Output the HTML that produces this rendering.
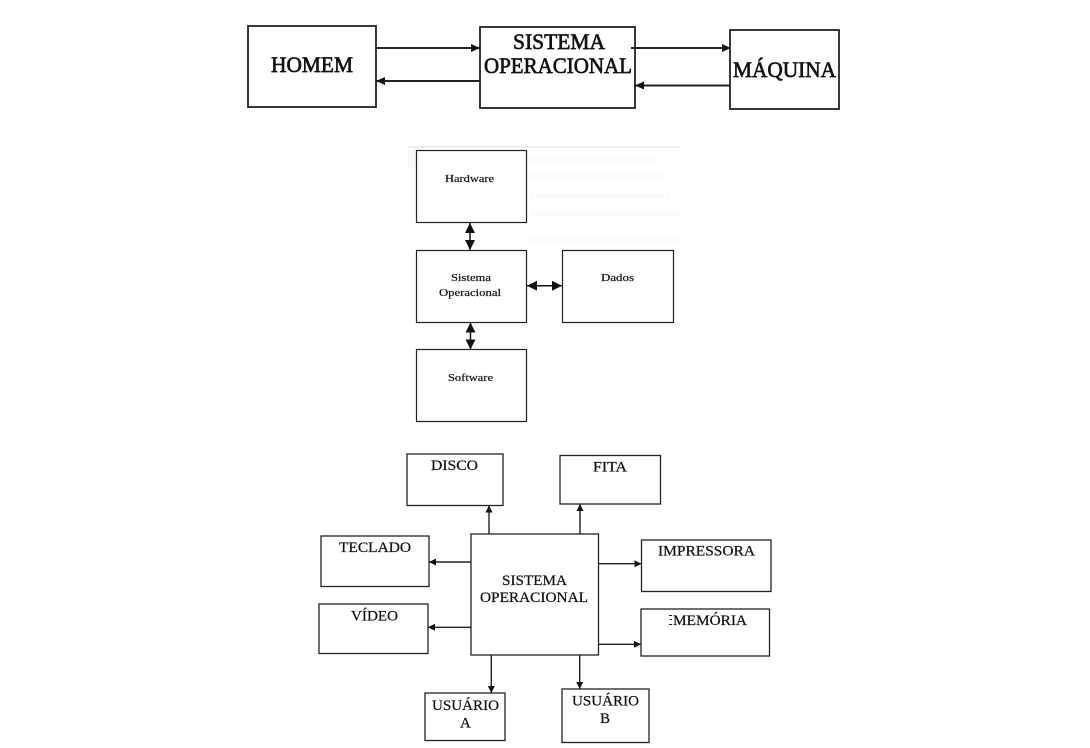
<!DOCTYPE html>
<html>
<head>
<meta charset="utf-8">
<style>
html,body{margin:0;padding:0;background:#fff;}
svg{display:block;filter:blur(0.35px);}
text{font-family:"Liberation Serif",serif;fill:#111;stroke:#111;}
</style>
</head>
<body>
<svg width="1090" height="748" viewBox="0 0 1090 748" xmlns="http://www.w3.org/2000/svg">
<defs>
<marker id="a" markerWidth="10" markerHeight="10" refX="9" refY="4" orient="auto-start-reverse" markerUnits="userSpaceOnUse"><path d="M0,0L9,4L0,8z" fill="#111"/></marker>
<marker id="b" markerWidth="11" markerHeight="11" refX="10" refY="5" orient="auto-start-reverse" markerUnits="userSpaceOnUse"><path d="M0,0L10,5L0,10z" fill="#111"/></marker>
<marker id="c" markerWidth="8" markerHeight="8" refX="7" refY="3.500" orient="auto-start-reverse" markerUnits="userSpaceOnUse"><path d="M0,0L7,3.500L0,7z" fill="#111"/></marker>
</defs>
<line x1="408" y1="147" x2="680" y2="147" stroke="#ddd" stroke-width="1"/>
<g fill="none" stroke="#fbfbfb" stroke-width="6">
<line x1="530" y1="160" x2="660" y2="160"/>
<line x1="530" y1="175" x2="665" y2="175"/>
<line x1="530" y1="196" x2="670" y2="196"/>
<line x1="530" y1="213" x2="680" y2="213"/>
<line x1="530" y1="240" x2="680" y2="240"/>
</g>
<rect x="408" y="150" width="8" height="18" fill="#f8f8f8"/>
<g fill="#fff" stroke="#222" stroke-width="1.800">
<rect x="248" y="26" width="128" height="81"/>
<rect x="480" y="27" width="155" height="81"/>
<rect x="730" y="30" width="109" height="79"/>
</g>
<g fill="none" stroke="#222" stroke-width="2">
<line x1="376" y1="48" x2="480" y2="48" marker-end="url(#a)"/>
<line x1="480" y1="81" x2="376" y2="81" marker-end="url(#a)"/>
<line x1="631" y1="48" x2="731" y2="48" marker-end="url(#a)"/>
<line x1="730" y1="85.500" x2="635" y2="85.500" marker-end="url(#a)"/>
</g>
<g font-size="22" stroke-width="0.650">
<text x="271" y="72" textLength="82" lengthAdjust="spacingAndGlyphs">HOMEM</text>
<text x="513" y="49" textLength="92" lengthAdjust="spacingAndGlyphs">SISTEMA</text>
<text x="484" y="73" textLength="148" lengthAdjust="spacingAndGlyphs">OPERACIONAL</text>
<text x="733" y="77" textLength="103" lengthAdjust="spacingAndGlyphs">MÁQUINA</text>
</g>
<g fill="#fff" stroke="#222" stroke-width="1.200">
<rect x="416.500" y="150.500" width="110" height="72"/>
<rect x="416.500" y="250.500" width="110" height="72"/>
<rect x="562.500" y="250.500" width="111" height="72"/>
<rect x="416.500" y="349.500" width="110" height="72"/>
</g>
<g fill="none" stroke="#111" stroke-width="1.500">
<line x1="470" y1="223" x2="470" y2="250" marker-start="url(#b)" marker-end="url(#b)"/>
<line x1="470.500" y1="322.500" x2="470.500" y2="349.500" marker-start="url(#b)" marker-end="url(#b)"/>
<line x1="527" y1="285.700" x2="562" y2="285.700" marker-start="url(#b)" marker-end="url(#b)"/>
</g>
<g font-size="11" stroke-width="0.200">
<text x="445" y="182" textLength="49" lengthAdjust="spacingAndGlyphs">Hardware</text>
<text x="451" y="281" textLength="40" lengthAdjust="spacingAndGlyphs">Sistema</text>
<text x="439" y="296" textLength="62" lengthAdjust="spacingAndGlyphs">Operacional</text>
<text x="601" y="281" textLength="33" lengthAdjust="spacingAndGlyphs">Dados</text>
<text x="448" y="381" textLength="45" lengthAdjust="spacingAndGlyphs">Software</text>
</g>
<g fill="#fff" stroke="#222" stroke-width="1.300">
<rect x="407" y="454" width="96" height="51.500"/>
<rect x="560" y="455.500" width="100.500" height="48.500"/>
<rect x="321" y="536" width="108" height="50.500"/>
<rect x="641.500" y="540" width="129.500" height="51.500"/>
<rect x="319" y="604" width="109" height="49.500"/>
<rect x="641" y="609" width="128.500" height="47"/>
<rect x="425" y="693" width="80" height="47.500"/>
<rect x="562" y="689" width="87" height="53.500"/>
<rect x="471" y="534" width="127.500" height="121"/>
</g>
<g fill="none" stroke="#222" stroke-width="1.400">
<line x1="489" y1="534" x2="489" y2="505.500" marker-end="url(#c)"/>
<line x1="580" y1="534" x2="580" y2="504" marker-end="url(#c)"/>
<line x1="471" y1="562" x2="429" y2="562" marker-end="url(#c)"/>
<line x1="471" y1="627.300" x2="428" y2="627.300" marker-end="url(#c)"/>
<line x1="598.500" y1="563.700" x2="641.500" y2="563.700" marker-end="url(#c)"/>
<line x1="598.500" y1="644.300" x2="641" y2="644.300" marker-end="url(#c)"/>
<line x1="491.300" y1="655" x2="491.300" y2="693" marker-end="url(#c)"/>
<line x1="579.700" y1="655" x2="579.700" y2="689" marker-end="url(#c)"/>
</g>
<g font-size="15" stroke-width="0.250">
<text x="431" y="470" textLength="47" lengthAdjust="spacingAndGlyphs">DISCO</text>
<text x="593" y="471.500" textLength="34" lengthAdjust="spacingAndGlyphs">FITA</text>
<text x="339" y="552" textLength="72" lengthAdjust="spacingAndGlyphs">TECLADO</text>
<text x="658" y="555.500" textLength="97" lengthAdjust="spacingAndGlyphs">IMPRESSORA</text>
<text x="351" y="620.500" textLength="47" lengthAdjust="spacingAndGlyphs">VÍDEO</text>
<text x="673" y="625" textLength="74" lengthAdjust="spacingAndGlyphs">MEMÓRIA</text>
<text x="502" y="585" textLength="65" lengthAdjust="spacingAndGlyphs">SISTEMA</text>
<text x="480" y="602" textLength="108" lengthAdjust="spacingAndGlyphs">OPERACIONAL</text>
<text x="432" y="710" textLength="67" lengthAdjust="spacingAndGlyphs">USUÁRIO</text>
<text x="460" y="727.500">A</text>
<text x="572" y="705.500" textLength="67" lengthAdjust="spacingAndGlyphs">USUÁRIO</text>
<text x="600" y="723">B</text>
</g>
<g stroke="#222" stroke-width="1" fill="none">
<line x1="669" y1="615.500" x2="672" y2="615.500"/>
<line x1="670" y1="619.500" x2="672" y2="619.500"/>
<line x1="669" y1="624.500" x2="672" y2="624.500"/>
</g>
</svg>
</body>
</html>
